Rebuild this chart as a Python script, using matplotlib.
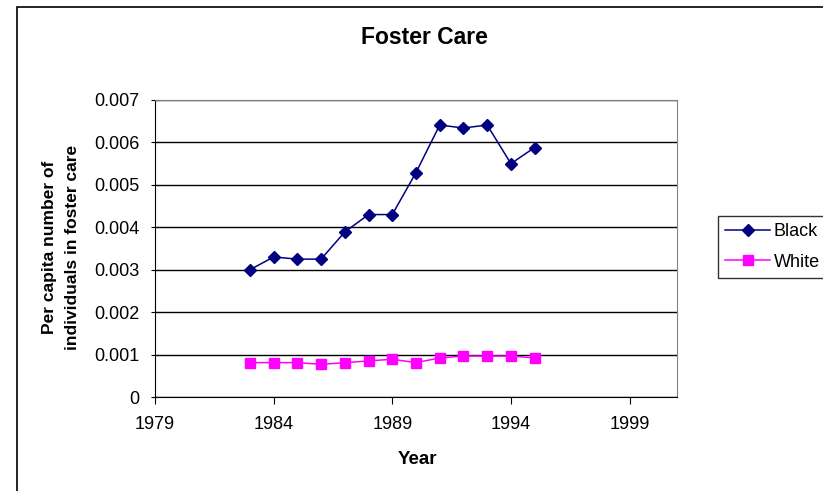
import matplotlib
matplotlib.use("Agg")
import matplotlib.pyplot as plt
from matplotlib.patches import Rectangle

years = list(range(1983, 1996))
black = [0.0030, 0.0033, 0.00325, 0.00325, 0.00389, 0.0043, 0.0043,
         0.00529, 0.00641, 0.00634, 0.00641, 0.0055, 0.00588]
white = [0.00081, 0.00081, 0.00081, 0.00077, 0.00081, 0.00085, 0.00089,
         0.00081, 0.00092, 0.000965, 0.000965, 0.000965, 0.00092]
xticks = [1979, 1984, 1989, 1994, 1999]
yticks = [0, 0.001, 0.002, 0.003, 0.004, 0.005, 0.006, 0.007]

plt.rcParams['font.family'] = ['Liberation Sans', 'DejaVu Sans']

W, H = 823, 491
fig = plt.figure(figsize=(W / 100, H / 100), dpi=100)
# outer chart border (right/bottom run off the image)
fig.patches.append(Rectangle((17 / W, -0.1), 1.2, 1 - 7 / H + 0.1, transform=fig.transFigure,
                             fill=False, edgecolor='black', lw=1.2))

ax = fig.add_axes([155 / W, 1 - 397 / H, (677 - 155) / W, (397 - 100) / H])
ax.plot(years, black, color='#000080', marker='D', markersize=6, lw=1.1, label='Black')
ax.plot(years, white, color='#FF00FF', marker='s', markersize=6.5, lw=1.1, label='White')

ax.set_xlim(1979, 2001)
ax.set_ylim(0, 0.007)
ax.set_xticks(xticks)
ax.set_xticklabels([str(x) for x in xticks])
ax.set_yticks(yticks)
ax.set_yticklabels(['0', '0.001', '0.002', '0.003', '0.004', '0.005', '0.006', '0.007'])
ax.tick_params(axis='x', direction='out', length=5, labelsize=13, pad=9)
ax.tick_params(axis='y', direction='inout', length=6, labelsize=13, pad=8)
ax.yaxis.grid(True, color='black', lw=1)
ax.set_axisbelow(True)
for s in ['top', 'right']:
    ax.spines[s].set_color('#808080')
for s in ['left', 'bottom']:
    ax.spines[s].set_color('black')

fig.text(424 / W, 1 - 38 / H, 'Foster Care', ha='center', va='center', fontsize=16.5, fontweight='bold')
fig.text(417 / W, 1 - 460 / H, 'Year', ha='center', va='center', fontsize=13.5, fontweight='bold')
fig.text(61 / W, 1 - 247 / H, 'Per capita number of\nindividuals in foster care', ha='center', va='center',
         rotation=90, fontsize=12.5, fontweight='bold', linespacing=1.7)

leg = fig.legend(loc='upper left', bbox_to_anchor=(718 / W, 1 - 216 / H), frameon=True, fancybox=False,
                 edgecolor='black', fontsize=13, handlelength=2.5, borderpad=0.4, labelspacing=0.75,
                 handletextpad=0.2, borderaxespad=0)
leg.get_frame().set_linewidth(1)

fig.savefig('out.png', dpi=100)
